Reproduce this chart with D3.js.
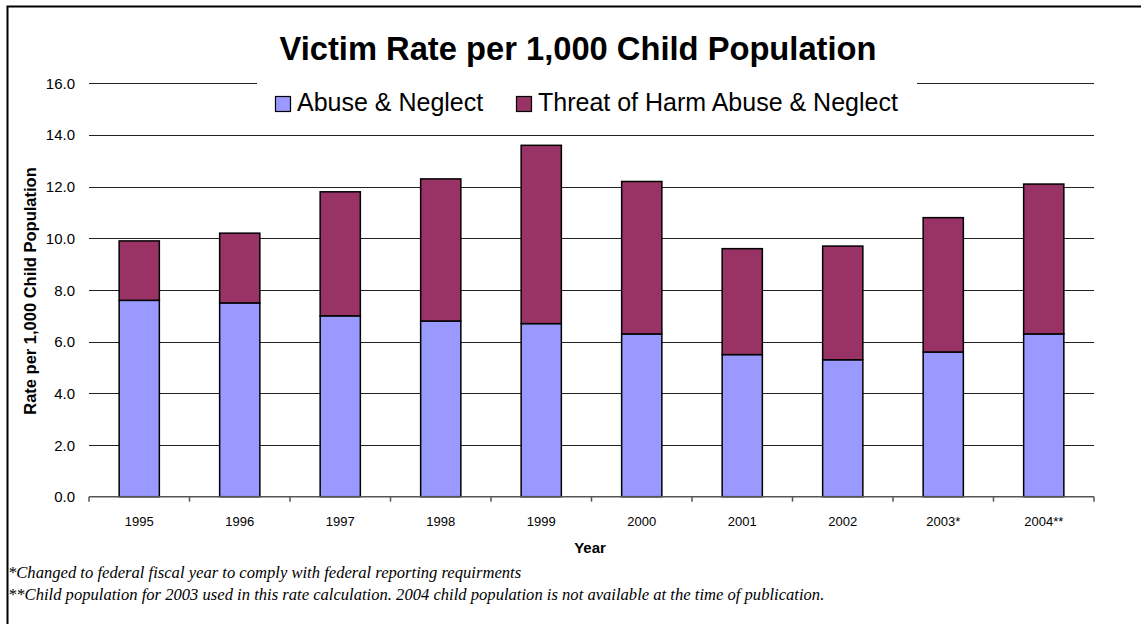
<!DOCTYPE html>
<html>
<head>
<meta charset="utf-8">
<script src="https://cdn.jsdelivr.net/npm/d3@7"></script>
<style>
  html, body { margin: 0; padding: 0; background: #fff; }
  svg { display: block; }
  text { font-family: "Liberation Sans", Arial, sans-serif; fill: #000; }
  text.note { font-family: "Liberation Serif", "Times New Roman", serif; font-style: italic; }
</style>
</head>
<body>
<svg id="chart" width="1141" height="624"></svg>
<script>
// Victim rates per 1,000 children, split into two stacked components
const years = ["1995", "1996", "1997", "1998", "1999", "2000", "2001", "2002", "2003*", "2004**"];
const abuseNeglect = [7.6, 7.5, 7.0, 6.8, 6.7, 6.3, 5.5, 5.3, 5.6, 6.3];
const threatOfHarm = [2.3, 2.7, 4.8, 5.5, 6.9, 5.9, 4.1, 4.4, 5.2, 5.8];
const seriesNames = ["Abuse & Neglect", "Threat of Harm Abuse & Neglect"];
const seriesColors = ["#9999FF", "#993366"];
const yTicks = [0, 2, 4, 6, 8, 10, 12, 14, 16];
const footnotes = [
  "*Changed to federal fiscal year to comply with federal reporting requirments",
  "**Child population for 2003 used in this rate calculation. 2004 child population is not available at the time of publication."
];

const svg = d3.select("#chart");

// outer frame (top and left edges)
svg.append("path")
  .attr("d", "M7.5,624 V6.5 H1141")
  .attr("fill", "none").attr("stroke", "#000").attr("stroke-width", 2);

const plot = { left: 89, right: 1094, top: 83.3, bottom: 496.7 };

const x = d3.scaleBand()
  .domain(years)
  .range([plot.left, plot.right])
  .paddingInner(0.6)
  .paddingOuter(0.3);

const y = d3.scaleLinear()
  .domain([0, 16])
  .range([plot.bottom, plot.top]);

// horizontal gridlines
svg.append("g").selectAll("line")
  .data(yTicks.filter(d => d > 0))
  .join("line")
  .attr("x1", plot.left).attr("x2", plot.right)
  .attr("y1", d => Math.round(y(d)) + 0.5).attr("y2", d => Math.round(y(d)) + 0.5)
  .attr("stroke", "#222").attr("stroke-width", 1);

// y tick labels
svg.append("g").selectAll("text")
  .data(yTicks)
  .join("text")
  .attr("x", 75)
  .attr("y", d => y(d) + 5.5)
  .attr("text-anchor", "end")
  .attr("font-size", 15)
  .text(d => d3.format(".1f")(d));

// stacked bars
const rows = years.map((yr, i) => ({ year: yr, a: abuseNeglect[i], t: threatOfHarm[i] }));
const stack = d3.stack().keys(["a", "t"])(rows);

const barG = svg.append("g");
stack.forEach((layer, li) => {
  barG.append("g")
    .attr("fill", seriesColors[li])
    .selectAll("rect")
    .data(layer)
    .join("rect")
    .attr("x", d => x(d.data.year))
    .attr("y", d => y(d[1]))
    .attr("width", x.bandwidth())
    .attr("height", d => y(d[0]) - y(d[1]))
    .attr("stroke", "#000")
    .attr("stroke-width", 1.5);
});

// x axis line and category boundary ticks
const step = x.step();
const bounds = years.map(yr => x(yr) - step * 0.3).concat([plot.right]);
const axisG = svg.append("g");
axisG.append("line")
  .attr("x1", plot.left).attr("x2", plot.right)
  .attr("y1", plot.bottom).attr("y2", plot.bottom)
  .attr("stroke", "#555").attr("stroke-width", 1.5);
axisG.selectAll("line.tick")
  .data(bounds)
  .join("line")
  .attr("class", "tick")
  .attr("x1", d => d).attr("x2", d => d)
  .attr("y1", plot.bottom).attr("y2", plot.bottom + 5)
  .attr("stroke", "#555").attr("stroke-width", 1.5);

// x tick labels
svg.append("g").selectAll("text")
  .data(years)
  .join("text")
  .attr("x", d => x(d) + x.bandwidth() / 2)
  .attr("y", 526)
  .attr("text-anchor", "middle")
  .attr("font-size", 13)
  .text(d => d);

// axis titles
svg.append("text")
  .attr("x", 590).attr("y", 553)
  .attr("text-anchor", "middle")
  .attr("font-size", 15).attr("font-weight", "bold")
  .text("Year");

svg.append("text")
  .attr("transform", "translate(36,291) rotate(-90)")
  .attr("text-anchor", "middle")
  .attr("font-size", 16.5).attr("font-weight", "bold")
  .text("Rate per 1,000 Child Population");

// chart title
svg.append("text")
  .attr("x", 578).attr("y", 60)
  .attr("text-anchor", "middle")
  .attr("font-size", 32.7).attr("font-weight", "bold")
  .text("Victim Rate per 1,000 Child Population");

// legend, on a white panel over the top gridline
const legend = svg.append("g");
legend.append("rect")
  .attr("x", 257).attr("y", 74).attr("width", 660).attr("height", 50)
  .attr("fill", "#fff");
const legendX = [275, 516];
seriesNames.forEach((name, i) => {
  legend.append("rect")
    .attr("x", legendX[i] + 0.5).attr("y", 96.5)
    .attr("width", 15).attr("height", 15)
    .attr("fill", seriesColors[i]).attr("stroke", "#000").attr("stroke-width", 1.2);
  legend.append("text")
    .attr("x", legendX[i] + 22).attr("y", 111)
    .attr("font-size", 25)
    .text(name);
});

// footnotes
svg.append("g").selectAll("text")
  .data(footnotes)
  .join("text")
  .attr("class", "note")
  .attr("x", 8)
  .attr("y", (d, i) => 578 + i * 22)
  .attr("font-size", 16.6)
  .text(d => d);
</script>
</body>
</html>
